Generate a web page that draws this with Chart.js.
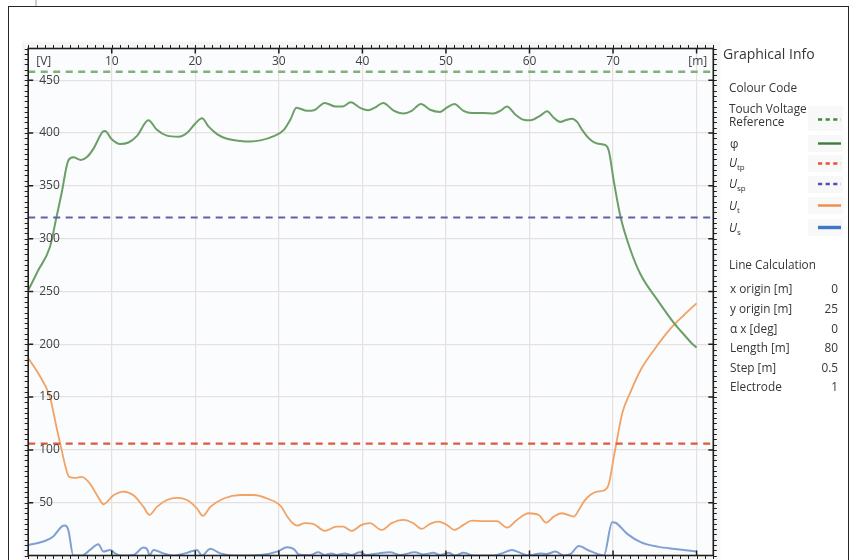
<!DOCTYPE html>
<html>
<head>
<meta charset="utf-8">
<script src="https://cdn.jsdelivr.net/npm/chart.js@4/dist/chart.umd.min.js"></script>
<style>
  html, body { margin: 0; padding: 0; background: #fff; }
  body { width: 853px; height: 560px; position: relative; overflow: hidden;
         font-family: "Open Sans", "Noto Sans", sans-serif; color: #363636; }
  #chart { position: absolute; left: 0; top: 0; }
  #frame { position: absolute; left: 8px; top: 6px; width: 841px; height: 620px;
           border: 1.5px solid #262626; box-sizing: border-box; pointer-events: none; }
  #stub { position: absolute; left: 35px; top: 0; width: 2px; height: 6px; background: #cfcfcf; }
  .t { position: absolute; white-space: nowrap; font-size: 11.8px; line-height: 16px; }
  .t i { font-style: italic; }
  .t sub { font-size: 8px; line-height: 0; vertical-align: -3px; }
  .v { position: absolute; white-space: nowrap; font-size: 11.8px; line-height: 16px; text-align: right; right: 15px; }
  .box { position: absolute; left: 808px; width: 35px; background: #f8f8f8; }
  #samples { position: absolute; left: 0; top: 0; }
</style>
</head>
<body>
<canvas id="chart" width="853" height="560"></canvas>
<div id="stub"></div>
<div id="frame"></div>

<div class="t" style="left:723px;top:44px;font-size:14px;line-height:20px;">Graphical Info</div>
<div class="t" style="left:729px;top:79px;">Colour Code</div>

<div class="box" style="top:106px;height:25px;"></div>
<div class="box" style="top:135px;height:17px;"></div>
<div class="box" style="top:155px;height:17px;"></div>
<div class="box" style="top:176px;height:17px;"></div>
<div class="box" style="top:197px;height:17px;"></div>
<div class="box" style="top:219px;height:17px;"></div>

<div class="t" style="left:729px;top:102px;line-height:13px;">Touch Voltage<br>Reference</div>
<div class="t" style="left:730px;top:135px;">φ</div>
<div class="t" style="left:729px;top:154px;"><i>U</i><sub>tp</sub></div>
<div class="t" style="left:729px;top:175px;"><i>U</i><sub>sp</sub></div>
<div class="t" style="left:729px;top:197px;"><i>U</i><sub>t</sub></div>
<div class="t" style="left:729px;top:219px;"><i>U</i><sub>s</sub></div>

<svg id="samples" width="853" height="560">
  <line x1="818" y1="119.5" x2="841" y2="119.5" stroke="#3f8a3f" stroke-width="2.4" stroke-dasharray="4.2 3.4"/>
  <line x1="818" y1="143.5" x2="841" y2="143.5" stroke="#3d7d3d" stroke-width="2.4"/>
  <line x1="818" y1="163.5" x2="841" y2="163.5" stroke="#e8523b" stroke-width="2.4" stroke-dasharray="4.2 3.4"/>
  <line x1="818" y1="184" x2="841" y2="184" stroke="#5454ad" stroke-width="2.4" stroke-dasharray="4.2 3.4"/>
  <line x1="818" y1="205.5" x2="841" y2="205.5" stroke="#f08a48" stroke-width="2.4"/>
  <line x1="818" y1="227.5" x2="841" y2="227.5" stroke="#3c78c6" stroke-width="3.4"/>
</svg>

<div class="t" style="left:729px;top:256px;">Line Calculation</div>
<div id="calc"></div>

<script>
// Profile along the calculation line, step 0.5 m, readings in volts
const phiDist = [0, 1.2, 2.6, 3.4, 4.0, 4.8, 5.4, 6.3, 7.0, 7.8, 8.9, 9.2, 10.0, 11.0, 12.0, 13.0, 14.4, 15.4, 16.6, 18.0, 19.0, 20.0, 20.8, 21.6, 22.6, 23.8, 25.4, 26.6, 27.8, 29.4, 30.6, 31.4, 32.1, 33.4, 34.2, 35.5, 36.8, 37.6, 38.6, 39.8, 40.7, 41.5, 42.5, 43.7, 44.9, 45.9, 47.0, 48.1, 49.3, 50.1, 51.0, 52.1, 53.1, 54.5, 55.7, 56.5, 57.3, 58.3, 59.3, 60.1, 61.3, 62.1, 62.9, 63.7, 64.3, 65.1, 65.7, 66.3, 67.1, 68.1, 69.1, 69.5, 70.1, 70.9, 72.1, 73.3, 75.3, 77.3, 78.5, 79.6, 80.0];
const phiVolt = [251, 270, 292, 321, 343, 374, 377, 374.5, 377, 385, 401, 402, 394, 389.5, 391, 397, 412, 403, 397.5, 396.5, 400, 409, 414, 406, 399, 394.5, 392.5, 392, 393, 397, 403, 413, 424, 421, 421.5, 428.5, 425, 425, 429, 423.5, 421.5, 424, 428.5, 421.5, 418.5, 421, 427.5, 422, 420, 424, 427.5, 421, 419, 419, 418.5, 421, 425, 417.5, 412.5, 412, 416.5, 420.5, 414.5, 410.5, 412, 413.5, 410.5, 403, 395, 390, 388.5, 383, 354, 320.5, 289, 266, 242, 220, 209, 199.5, 197];

const utDist = [0, 1.2, 2.6, 3.4, 4.0, 4.5, 4.9, 5.6, 6.4, 7.3, 8.4, 9.0, 10.2, 11.4, 12.6, 13.8, 14.5, 15.4, 16.6, 17.8, 19.0, 20.2, 20.9, 21.8, 23.4, 25.4, 27.0, 28.6, 30.2, 31.0, 31.6, 32.2, 33.1, 34.1, 35.5, 36.9, 37.7, 38.7, 39.9, 40.9, 42.3, 43.5, 44.9, 46.1, 47.1, 48.1, 49.1, 50.1, 51.0, 52.1, 53.1, 54.5, 56.1, 57.3, 58.5, 59.9, 61.1, 62.0, 62.9, 63.9, 65.3, 65.9, 66.5, 67.3, 68.1, 68.9, 69.5, 70.1, 70.6, 71.1, 72.1, 73.3, 74.9, 76.9, 78.5, 80.0];
const utVolt = [187, 172.5, 150, 121, 100, 83, 74.5, 73.5, 74.5, 69, 55, 48.5, 57, 60.5, 57, 46, 38.5, 46, 52.5, 54.5, 52.5, 44.5, 37.5, 46, 54, 57.3, 57.3, 54, 47, 37, 31, 28.3, 30.6, 30, 23.3, 27.3, 27.3, 23.3, 29, 30.6, 24.2, 30.6, 33.7, 30.6, 25.2, 30, 32, 29, 24.2, 29, 33, 32.5, 32.5, 26.4, 33.7, 40, 38.4, 31.1, 36.8, 40, 36.8, 43, 51, 57.5, 60.5, 61.5, 68, 93.6, 115, 134.6, 155, 175.6, 194.6, 215, 227.7, 238.7];

const usDist = [0, 1.8, 3.0, 4.0, 4.4, 4.8, 5.4, 6.4, 7.4, 8.4, 9.0, 9.8, 10.4, 11.0, 12.6, 13.8, 14.3, 14.5, 15.0, 16.2, 17.4, 19.0, 20.2, 20.8, 21.8, 23.0, 24.6, 27.8, 29.8, 31.0, 31.8, 32.4, 33.8, 34.7, 35.5, 36.3, 36.9, 37.9, 38.7, 39.7, 40.5, 41.9, 43.3, 44.5, 46.3, 47.3, 48.5, 49.3, 50.3, 51.1, 52.1, 53.3, 55.7, 56.7, 57.9, 58.9, 59.9, 61.3, 62.1, 63.1, 64.1, 64.9, 65.9, 67.1, 68.3, 68.9, 69.9, 70.3, 71.7, 73.3, 75.3, 77.7, 80.0];
const usVolt = [10, 13.2, 18, 27.3, 28.3, 24.2, 0, 0, 5.3, 10.7, 3.7, 5.3, 2, 0, 0.6, 7.5, 5, 0, 5.3, 2, 0, 2.5, 5.3, 0, 6.3, 2, 0, 0.5, 3.7, 7.8, 6, 1, 0.5, 3, 0.5, 2, 0.5, 2, 0.5, 3, 0.5, 2, 3, 0.5, 3, 1, 2.5, 0.5, 2.5, 0, 2.5, 0, 0, 2, 5.3, 2.5, 0, 2, 1.5, 3.7, 0, 1.2, 9, 4.7, 1, 0, 31.5, 31, 20.5, 12.7, 8.4, 6, 3.7];

// Limit levels drawn as horizontal dashed lines
const touchRef = 458;
const utpLimit = 106;
const uspLimit = 320;

// Axis ticks and labels
const xGrid = [10, 20, 30, 40, 50, 60, 70, 80];
const xLabels = [10, 20, 30, 40, 50, 60, 70];
const yGrid = [50, 100, 150, 200, 250, 300, 350, 400, 450];
const yLabels = [50, 100, 150, 200, 250, 300, 350, 400, 450];

// Line calculation parameters
const calcNames = ["x origin [m]", "y origin [m]", "α x [deg]", "Length [m]", "Step [m]", "Electrode"];
const calcValues = ["0", "25", "0", "80", "0.5", "1"];

const calcTops = [279.5, 300, 319.5, 339, 358.5, 378];
const calc = document.getElementById('calc');
calcNames.forEach((n, i) => {
  const a = document.createElement('div');
  a.className = 't'; a.style.left = '730px'; a.style.top = calcTops[i] + 'px'; a.textContent = n;
  const b = document.createElement('div');
  b.className = 'v'; b.style.top = calcTops[i] + 'px'; b.textContent = calcValues[i];
  calc.appendChild(a); calc.appendChild(b);
});

const pts = (xs, ys) => xs.map((x, i) => ({ x: x, y: ys[i] }));
const level = v => [{ x: 0, y: v }, { x: 82, y: v }];

const axisFrame = {
  id: 'axisFrame',
  beforeDraw(chart) {
    const { ctx, chartArea: a } = chart;
    ctx.save();
    ctx.fillStyle = '#f6f6f6';
    ctx.fillRect(a.left - 6, a.top - 7, a.right - a.left + 13, a.bottom - a.top + 14);
    ctx.fillStyle = '#fbfcfd';
    ctx.fillRect(a.left, a.top, a.right - a.left, a.bottom - a.top);
    ctx.restore();
  },
  afterDraw(chart) {
    const { ctx, chartArea: a, scales: { x, y } } = chart;
    ctx.save();
    ctx.strokeStyle = '#1e1e1e';
    // minor ticks outside the frame
    ctx.lineWidth = 1;
    ctx.beginPath();
    for (let v = 0; v <= 480; v += 5) {
      const py = Math.round(y.getPixelForValue(v)) + 0.5;
      ctx.moveTo(a.left - 3.5, py); ctx.lineTo(a.left, py);
      ctx.moveTo(a.right, py); ctx.lineTo(a.right + 3.5, py);
    }
    for (let v = 0; v <= 82; v += 1) {
      const px = Math.round(x.getPixelForValue(v)) + 0.5;
      ctx.moveTo(px, a.top - 3.5); ctx.lineTo(px, a.top);
      ctx.moveTo(px, a.bottom); ctx.lineTo(px, a.bottom + 3.5);
    }
    ctx.stroke();
    // major ticks pointing inside
    ctx.lineWidth = 1.5;
    ctx.beginPath();
    yGrid.forEach(v => {
      const py = y.getPixelForValue(v);
      ctx.moveTo(a.left, py); ctx.lineTo(a.left + 5, py);
      ctx.moveTo(a.right - 5, py); ctx.lineTo(a.right, py);
    });
    xGrid.forEach(v => {
      const px = x.getPixelForValue(v);
      ctx.moveTo(px, a.top); ctx.lineTo(px, a.top + 5);
      ctx.moveTo(px, a.bottom - 5); ctx.lineTo(px, a.bottom);
    });
    ctx.stroke();
    // frame
    ctx.lineWidth = 1.6;
    ctx.strokeRect(a.left, a.top, a.right - a.left, a.bottom - a.top);
    // tick labels inside the plot
    ctx.fillStyle = '#404040';
    ctx.font = '12px "Open Sans", sans-serif';
    ctx.textBaseline = 'middle';
    ctx.textAlign = 'left';
    yLabels.forEach(v => ctx.fillText(String(v), a.left + 11, y.getPixelForValue(v)));
    ctx.fillText('[V]', a.left + 8, a.top + 13);
    ctx.textAlign = 'center';
    xLabels.forEach(v => ctx.fillText(String(v), x.getPixelForValue(v), a.top + 13));
    ctx.textAlign = 'right';
    ctx.fillText('[m]', a.right - 6, a.top + 13);
    ctx.restore();
  }
};

new Chart(document.getElementById('chart'), {
  type: 'line',
  data: {
    datasets: [
      { label: 'Touch Voltage Reference', data: level(touchRef), borderColor: '#82b07b', borderWidth: 2.6, borderDash: [7, 5.5] },
      { label: 'Utp', data: level(utpLimit), borderColor: '#dc5a3f', borderWidth: 2.2, borderDash: [7, 5.5] },
      { label: 'Usp', data: level(uspLimit), borderColor: '#6060aa', borderWidth: 2.2, borderDash: [7, 5.5] },
      { label: 'φ', data: pts(phiDist, phiVolt), borderColor: '#6c9e67', borderWidth: 2, cubicInterpolationMode: 'monotone' },
      { label: 'Ut', data: pts(utDist, utVolt), borderColor: '#f2a264', borderWidth: 1.8, cubicInterpolationMode: 'monotone' },
      { label: 'Us', data: pts(usDist, usVolt), borderColor: '#809fd2', borderWidth: 2, cubicInterpolationMode: 'monotone' }
    ]
  },
  options: {
    responsive: false,
    animation: false,
    events: [],
    layout: { padding: { left: 28.2, top: 48.5, right: 139.7, bottom: 4.5 } },
    elements: { point: { radius: 0 }, line: { fill: false } },
    plugins: { legend: { display: false }, tooltip: { enabled: false } },
    scales: {
      x: {
        type: 'linear', position: 'top', min: 0, max: 82,
        afterFit(s) { s.height = 0; },
        afterBuildTicks(s) { s.ticks = xGrid.map(v => ({ value: v })); },
        ticks: { display: false },
        grid: { color: '#e6e0e0', lineWidth: 1.2, drawTicks: false },
        border: { display: false }
      },
      y: {
        type: 'linear', min: 0, max: 480,
        afterFit(s) { s.width = 0; },
        afterBuildTicks(s) { s.ticks = yGrid.map(v => ({ value: v })); },
        ticks: { display: false },
        grid: { color: '#e6e0e0', lineWidth: 1.2, drawTicks: false },
        border: { display: false }
      }
    }
  },
  plugins: [axisFrame]
});
</script>
</body>
</html>
